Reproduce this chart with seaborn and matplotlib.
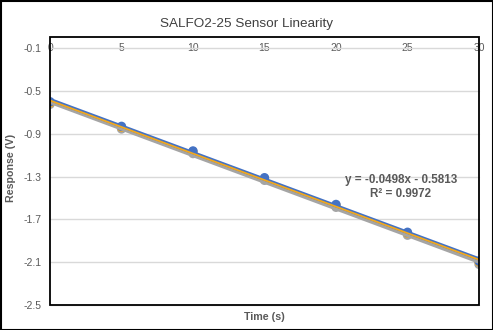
import numpy as np
import pandas as pd
import matplotlib
matplotlib.use("Agg")
import matplotlib.pyplot as plt
from matplotlib.patches import Rectangle
import seaborn as sns

time_s = [0, 5, 10, 15, 20, 25, 30]
run_gray = [-0.625, -0.855, -1.085, -1.335, -1.587, -1.848, -2.12]
run_orange = [-0.61, -0.838, -1.068, -1.318, -1.568, -1.828, -2.098]
run_blue = [-0.60, -0.83, -1.06, -1.31, -1.56, -1.82, -2.09]
series_names = ["Run 3", "Run 1", "Run 2"]
colors = ["#A5A5A5", "#4472C4", "#F2A81D"]
widths = [2.6, 2.4, 1.3]
yticks = [-0.1, -0.5, -0.9, -1.3, -1.7, -2.1, -2.5]
xticks = [0, 5, 10, 15, 20, 25, 30]
title = "SALFO2-25 Sensor Linearity"
eq_text = "y = -0.0498x - 0.5813"
r2_text = "R\u00b2 = 0.9972"

sns.set_theme(style="white")
plt.rcParams['font.family'] = ['Liberation Sans', 'DejaVu Sans']

W, H = 493, 330
fig = plt.figure(figsize=(W / 100, H / 100), dpi=100)

def px(x0, y0, x1, y1):
    return [x0 / W, 1 - y1 / H, (x1 - x0) / W, (y1 - y0) / H]

ax = fig.add_axes(px(50, 48.2, 479, 305))

values = {"Run 3": run_gray, "Run 1": run_blue, "Run 2": run_orange}
pal = dict(zip(series_names, colors))

# markers: gray, orange, then blue on top
marker_order = ["Run 3", "Run 2", "Run 1"]
dfm = pd.DataFrame({
    "Time": time_s * 3,
    "Response": sum([values[n] for n in marker_order], []),
    "Series": sum([[n] * len(time_s) for n in marker_order], []),
})
sns.scatterplot(data=dfm, x="Time", y="Response", hue="Series",
                palette=pal, s=45, edgecolor="none", legend=False,
                ax=ax, zorder=3)

# trendlines: gray, blue, orange on top
for name, lw in zip(series_names, widths):
    sub = pd.DataFrame({"Time": time_s, "Response": values[name]})
    sns.regplot(data=sub, x="Time", y="Response", scatter=False, ci=None,
                color=pal[name], line_kws=dict(lw=lw, zorder=4, solid_capstyle="round"),
                ax=ax)

ax.set_xlim(0, 30)
ax.set_ylim(-2.5, -0.1)
ax.set_yticks(yticks)
ax.set_yticklabels([f"{v:.1f}" for v in yticks])
ax.set_xticks(xticks)
ax.set_xticklabels([str(v) for v in xticks])
ax.xaxis.tick_top()
ax.tick_params(axis="x", length=0, pad=0, labelsize=7.5, labelcolor="#595959")
for lab in ax.get_xticklabels():
    lab.set_va("center")
ax.tick_params(axis="y", length=0, pad=6, labelsize=7.5, labelcolor="#595959")
ax.set_xlabel("")
ax.set_ylabel("")
ax.grid(axis="y", color="#D9D9D9", lw=1)
ax.grid(axis="x", visible=False)
for gl in ax.get_ygridlines():
    gl.set_clip_on(False)
for s in ax.spines.values():
    s.set_visible(False)
ax.set_axisbelow(True)

# plot-area frame and figure border
fig.patches.append(Rectangle((50 / W, 1 - 305 / H), 429 / W, 268 / H,
                             transform=fig.transFigure, fill=False,
                             edgecolor="black", lw=1.3, zorder=10))
fig.patches.append(Rectangle((0.5 / W, 0.5 / H), 1 - 1 / W, 1 - 1 / H,
                             transform=fig.transFigure, fill=False,
                             edgecolor="black", lw=1.5, zorder=10))

fig.text(246 / W, 1 - 24 / H, title, ha="center", va="center",
         fontsize=9.7, color="#404040")
fig.text(264 / W, 1 - 317 / H, "Time (s)", ha="center", va="center",
         fontsize=7.7, fontweight="bold", color="#595959")
fig.text(11 / W, 1 - 168 / H, "Response (V)", ha="center", va="center",
         rotation=90, fontsize=7.7, fontweight="bold", color="#595959")
fig.text(401 / W, 1 - 180 / H, eq_text, ha="center", va="center",
         fontsize=8.4, fontweight="bold", color="#595959")
fig.text(401 / W, 1 - 194 / H, r2_text, ha="center", va="center",
         fontsize=8.4, fontweight="bold", color="#595959")

fig.savefig("out.png", dpi=100)
